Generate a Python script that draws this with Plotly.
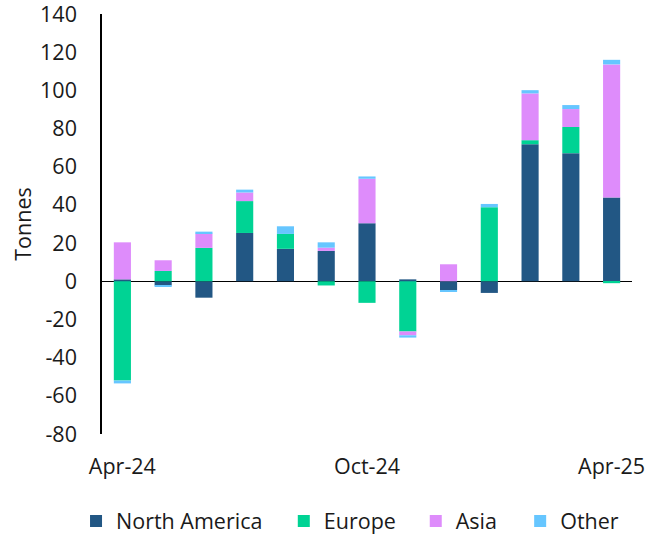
import plotly.graph_objects as go

months = ["Apr-24", "May-24", "Jun-24", "Jul-24", "Aug-24", "Sep-24", "Oct-24",
          "Nov-24", "Dec-24", "Jan-25", "Feb-25", "Mar-25", "Apr-25"]
north_america = [1.0, -2.2, -8.6, 25.3, 17.0, 15.9, 30.4, 1.0, -4.6, -6.1, 71.8, 67.1, 43.9]
europe = [-52.0, 5.4, 17.5, 16.7, 7.8, -2.2, -11.3, -26.3, 0.0, 38.8, 2.1, 13.7, -1.0]
asia = [19.4, 5.6, 7.5, 4.5, 0.0, 1.7, 23.3, -2.0, 8.9, 0.0, 24.5, 9.4, 69.7]
other = [-1.5, -0.8, 1.0, 1.5, 4.0, 2.8, 1.2, -1.2, -1.0, 1.7, 1.7, 2.1, 2.4]
x_tick_labels = ["Apr-24", "Oct-24", "Apr-25"]
y_tick_vals = [-80, -60, -40, -20, 0, 20, 40, 60, 80, 100, 120, 140]
y_tick_text = ["-80", "-60", "-40", "-20", "0", "20", "40", "60", "80", "100", "120", "140"]

series = [
    ("North America", north_america, "#225784"),
    ("Europe", europe, "#00D394"),
    ("Asia", asia, "#DE8CFB"),
    ("Other", other, "#66C6FF"),
]
legend_ids = ["legend", "legend2", "legend3", "legend4"]
legend_x = [-0.049, 0.343, 0.592, 0.789]

font = "Open Sans, sans-serif"
fs = 21.5

fig = go.Figure()
for (name, vals, color), lid in zip(series, legend_ids):
    fig.add_trace(go.Bar(x=months, y=vals, name=name, marker_color=color,
                         marker_line_width=0, legend=lid))

legend_layouts = {}
for lid, lx in zip(legend_ids, legend_x):
    legend_layouts[lid] = dict(orientation="h", x=lx, xanchor="left", y=-0.207,
                               yanchor="middle", font=dict(size=fs),
                               itemwidth=30, bgcolor="rgba(0,0,0,0)")

fig.update_layout(
    width=663, height=535,
    barmode="relative", bargap=0.58,
    margin=dict(l=102, r=31, t=14, b=101, autoexpand=False),
    paper_bgcolor="white", plot_bgcolor="white",
    font=dict(family=font, size=fs, color="#1a1a1a"),
    showlegend=True,
    **legend_layouts,
)
fig.update_xaxes(
    type="category", categoryorder="array", categoryarray=months,
    tickmode="array", tickvals=x_tick_labels, ticktext=x_tick_labels,
    showline=False, showgrid=False, ticks="", zeroline=False,
    range=[-0.5, 12.5], ticklabelstandoff=17, automargin=False,
)
fig.update_yaxes(
    range=[-80, 140], tickmode="array", tickvals=y_tick_vals, ticktext=y_tick_text,
    showline=True, linecolor="black", linewidth=1.5,
    showgrid=False, zeroline=True, zerolinecolor="black", zerolinewidth=1,
    ticks="", ticklabelstandoff=19, automargin=False, ticklabeloverflow="allow",
    title=dict(text="Tonnes", standoff=3, font=dict(size=fs)),
)
fig.write_html("out.html", config={"displayModeBar": False},
               post_script="document.body.style.margin='0px';")
